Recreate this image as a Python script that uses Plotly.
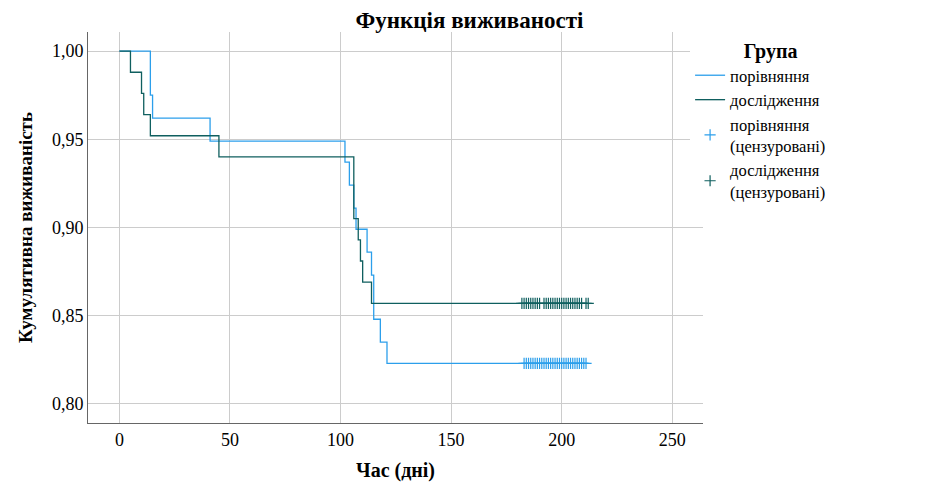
import plotly.graph_objects as go

# Kaplan-Meier steps
comp_event_days = [14, 15, 41, 102, 104, 106, 107, 112, 114, 115, 118, 121]
comp_surv = [0.975, 0.962, 0.949, 0.937, 0.924, 0.911, 0.899, 0.886, 0.873, 0.848, 0.835, 0.823]
comp_censored_days = [183, 184, 185, 186, 187, 188, 189, 190, 191, 192, 193, 194, 195, 196,
                      197, 198, 199, 200, 201, 202, 203, 204, 205, 206, 207, 208, 209, 210, 211]

study_event_days = [5, 10, 11, 14, 45, 106, 108, 109, 110, 114]
study_surv = [0.988, 0.976, 0.964, 0.952, 0.940, 0.905, 0.893, 0.881, 0.869, 0.857]
study_censored_days = [182, 183, 184, 185, 186, 187, 188, 189, 190, 192, 193, 194, 195, 196,
                       197, 198, 199, 200, 201, 202, 203, 204, 205, 206, 207, 208, 209, 211, 212]

x_ticks = [0, 50, 100, 150, 200, 250]
y_ticks = [0.80, 0.85, 0.90, 0.95, 1.00]

BLUE = "#2c9feb"
TEAL = "#0f5f5f"
FONT = "Liberation Serif, Times New Roman, DejaVu Serif, serif"


def step_xy(days, surv, end_day):
    xs = [0] + list(days) + [end_day]
    ys = [1.0] + list(surv) + [surv[-1]]
    return xs, ys


fig = go.Figure()

cx, cy = step_xy(comp_event_days, comp_surv, max(comp_censored_days) + 1)
sx, sy = step_xy(study_event_days, study_surv, max(study_censored_days))

fig.add_trace(go.Scatter(x=cx, y=cy, mode="lines", line=dict(color=BLUE, width=1.3, shape="hv"),
                         name="порівняння"))
fig.add_trace(go.Scatter(x=sx, y=sy, mode="lines", line=dict(color=TEAL, width=1.3, shape="hv"),
                         name="дослідження"))
fig.add_trace(go.Scatter(x=comp_censored_days, y=[comp_surv[-1]] * len(comp_censored_days),
                         mode="markers",
                         marker=dict(symbol="cross-thin", size=8, line=dict(color=BLUE, width=1.2)),
                         name="порівняння<br>(цензуровані)"))
fig.add_trace(go.Scatter(x=study_censored_days, y=[study_surv[-1]] * len(study_censored_days),
                         mode="markers",
                         marker=dict(symbol="cross-thin", size=8, line=dict(color=TEAL, width=1.2)),
                         name="дослідження<br>(цензуровані)"))

fig.update_layout(
    width=939,
    height=500,
    autosize=False,
    margin=dict(l=88, r=236, t=32, b=77),
    paper_bgcolor="white",
    plot_bgcolor="white",
    separators=",.",
    font=dict(family=FONT, size=18, color="black"),
    title=dict(text="<b>Функція виживаності</b>", x=0.5, xref="container", y=0.96,
               yanchor="middle", font=dict(family=FONT, size=23)),
    legend=dict(
        x=0.979, y=1.0, xanchor="left", yanchor="top",
        title=dict(text="&nbsp;&nbsp;&nbsp;&nbsp;<b>Група</b>", side="top center",
                   font=dict(family=FONT, size=20)),
        font=dict(family=FONT, size=16.5),
        itemwidth=30,
        tracegroupgap=0,
    ),
    xaxis=dict(
        range=[-14.2, 263.9],
        tickvals=x_ticks,
        showgrid=True, gridcolor="#cccccc", gridwidth=1,
        showline=True, linecolor="#666666", linewidth=1,
        zeroline=False, ticks="", automargin=False,
        title=dict(text="<b>Час (дні)</b>", font=dict(family=FONT, size=20), standoff=14),
    ),
    yaxis=dict(
        range=[0.7892, 1.0108],
        tickvals=y_ticks,
        tickformat=".2f",
        showgrid=True, gridcolor="#cccccc", gridwidth=1,
        showline=True, linecolor="#666666", linewidth=1,
        zeroline=False, ticks="", automargin=False,
        title=dict(text="<b>Кумулятивна виживаність</b>", font=dict(family=FONT, size=19), standoff=14),
    ),
)

# the page has a default 8px body margin; drop it so the plot sits at the origin
fig.write_html("out.html", config={"displayModeBar": False},
               post_script="document.body.style.margin='0';")
